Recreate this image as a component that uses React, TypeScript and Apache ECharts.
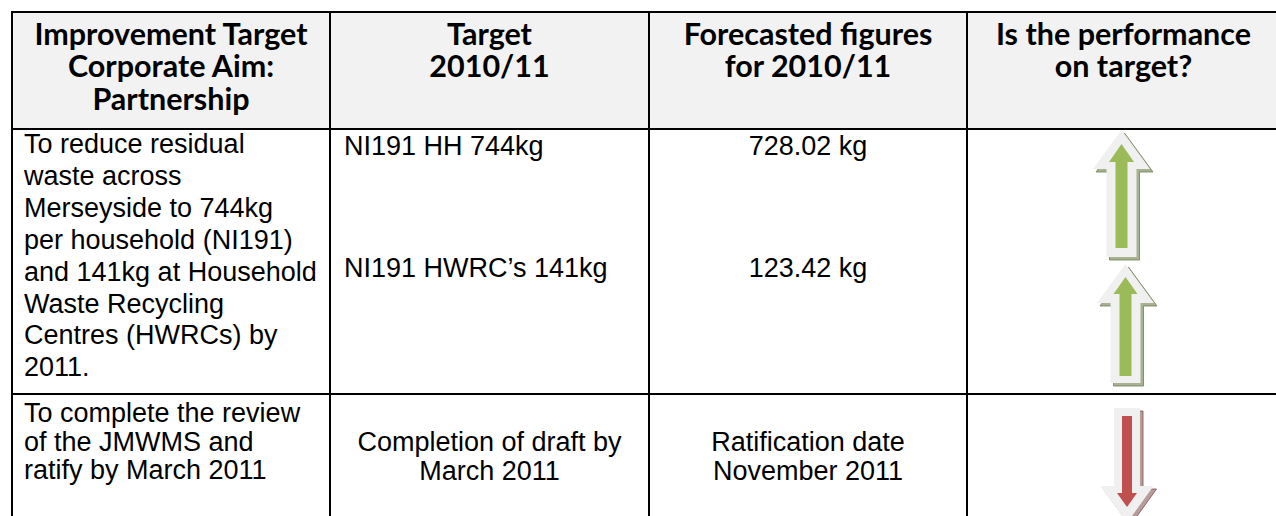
import React, { useEffect, useRef } from "react";
import * as echarts from "echarts";

// ---- content ----
const HEADERS: string[][] = [
  ["Improvement Target", "Corporate Aim:", "Partnership"],
  ["Target", "2010/11"],
  ["Forecasted figures", "for 2010/11"],
  ["Is the performance", "on target?"],
];
const ROW1_AIM = [
  "To reduce residual",
  "waste across",
  "Merseyside to 744kg",
  "per household (NI191)",
  "and 141kg at Household",
  "Waste Recycling",
  "Centres (HWRCs) by",
  "2011.",
];
const ROW1_TARGETS = ["NI191 HH 744kg", "NI191 HWRC\u2019s 141kg"];
const ROW1_FORECASTS = ["728.02 kg", "123.42 kg"];
const ROW2_AIM = ["To complete the review", "of the JMWMS and", "ratify by March 2011"];
const ROW2_TARGET = ["Completion of draft by", "March 2011"];
const ROW2_FORECAST = ["Ratification date", "November 2011"];
const STATUS = ["up", "up", "down"];

// ---- layout ----
const COLS = [12, 330, 649, 967, 1280];
const ROWS = [12, 129, 394, 530];
const HEAD_SIZE = 30.5;
const HEAD_FONT = `bold ${HEAD_SIZE}px Lato, 'Open Sans', sans-serif`;
const BODY_SIZE = 27;
const BODY_FONT = `${BODY_SIZE}px 'Liberation Sans', Arial, sans-serif`;

const ARROWS = [
  { cx: 1121.5, outer: [130, 169, 28.5, 15, 257], inner: [144, 162, 12.5, 6, 248] },
  { cx: 1125.5, outer: [264, 303, 28.5, 15, 383], inner: [277, 294, 12, 6, 376] },
  { cx: 1127, outer: [523, 486, 26.5, 13, 408], inner: [507, 493, 10, 5, 416] },
];

function arrowPts(cx: number, tipY: number, baseY: number, hh: number, sh: number, endY: number) {
  return [
    [cx, tipY],
    [cx + hh, baseY],
    [cx + sh, baseY],
    [cx + sh, endY],
    [cx - sh, endY],
    [cx - sh, baseY],
    [cx - hh, baseY],
  ];
}

function textEl(t: string, x: number, baseline: number, font: string, size: number, align: string) {
  return {
    type: "text",
    silent: true,
    style: {
      text: t,
      x,
      y: baseline - size * 0.33,
      font,
      fill: "#000",
      textAlign: align,
      textVerticalAlign: "middle",
    },
  };
}

export default function App() {
  const ref = useRef<HTMLDivElement>(null);
  useEffect(() => {
    document.body.style.margin = "0";
    const chart = echarts.init(ref.current!, null, { renderer: "svg" });
    const els: any[] = [];
    // header background
    els.push({ type: "rect", shape: { x: COLS[0], y: ROWS[0], width: 1276 - COLS[0], height: ROWS[1] - ROWS[0] }, style: { fill: "#f2f2f2" } });
    // header texts
    HEADERS.forEach((lines, i) => {
      const cx = (COLS[i] + COLS[i + 1]) / 2;
      lines.forEach((l, j) => els.push(textEl(l, cx, 43 + j * 32.5, HEAD_FONT, HEAD_SIZE, "center")));
    });
    // row 1
    ROW1_AIM.forEach((l, j) => els.push(textEl(l, 24, 153 + j * 31.9, BODY_FONT, BODY_SIZE, "left")));
    ROW1_TARGETS.forEach((l, j) => els.push(textEl(l, 344, 155 + j * 122, BODY_FONT, BODY_SIZE, "left")));
    ROW1_FORECASTS.forEach((l, j) => els.push(textEl(l, (COLS[2] + COLS[3]) / 2, 155 + j * 122, BODY_FONT, BODY_SIZE, "center")));
    // row 2
    ROW2_AIM.forEach((l, j) => els.push(textEl(l, 24, 422 + j * 28.7, BODY_FONT, BODY_SIZE, "left")));
    ROW2_TARGET.forEach((l, j) => els.push(textEl(l, (COLS[1] + COLS[2]) / 2, 451 + j * 28.7, BODY_FONT, BODY_SIZE, "center")));
    ROW2_FORECAST.forEach((l, j) => els.push(textEl(l, (COLS[2] + COLS[3]) / 2, 451 + j * 28.7, BODY_FONT, BODY_SIZE, "center")));
    // arrows
    STATUS.forEach((dir, i) => {
      const a = ARROWS[i];
      const up = dir === "up";
      const shadowFill = up ? "#a7b290" : "#b89c9c";
      const shadowStroke = up ? "#6f7f55" : "#7d4f4f";
      const o = a.outer as number[];
      const n = a.inner as number[];
      const outerPts = arrowPts(a.cx, o[0], o[1], o[2], o[3], o[4]);
      els.push({
        type: "polygon",
        shape: { points: outerPts.map((p) => [p[0] + 3, p[1] + 3]) },
        style: { fill: shadowFill, stroke: shadowStroke, lineWidth: 0.8 },
      });
      els.push({ type: "polygon", shape: { points: outerPts }, style: { fill: "#f0f0f0" } });
      els.push({
        type: "polygon",
        shape: { points: arrowPts(a.cx, n[0], n[1], n[2], n[3], n[4]) },
        style: { fill: up ? "#9bbb59" : "#c0504d" },
      });
    });
    // borders
    const lineStyle = { stroke: "#000", lineWidth: 2 };
    [ROWS[0], ROWS[1], ROWS[2]].forEach((y) =>
      els.push({ type: "line", shape: { x1: COLS[0] - 1, y1: y, x2: 1280, y2: y }, style: lineStyle })
    );
    [COLS[0], COLS[1], COLS[2], COLS[3]].forEach((x) =>
      els.push({ type: "line", shape: { x1: x, y1: ROWS[0] - 1, x2: x, y2: 530 }, style: lineStyle })
    );
    chart.setOption({ animation: false, graphic: { elements: els } });
    return () => chart.dispose();
  }, []);
  return <div ref={ref} style={{ width: 1276, height: 516, background: "#fff" }} />;
}
